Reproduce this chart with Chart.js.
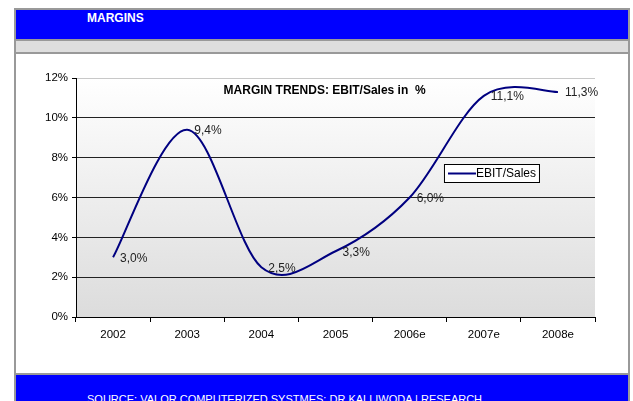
<!DOCTYPE html>
<html>
<head>
<meta charset="utf-8">
<script src="https://cdn.jsdelivr.net/npm/chart.js@4"></script>
<style>
    html, body { margin: 0; padding: 0; background: #fff; }
    body { width: 633px; height: 401px; position: relative; overflow: hidden; font-family: "Liberation Sans", Arial, sans-serif; }
    .frame { position: absolute; left: 14px; top: 8px; width: 612px; height: 400px; border: 2px solid #999; border-bottom: none; }
    .header { position: absolute; left: 16px; top: 10px; width: 612px; height: 29px; background: #0000ff; }
    .header span { position: absolute; left: 71px; top: 1px; color: #fff; font-weight: bold; font-size: 12px; }
    .band { position: absolute; left: 16px; top: 39px; width: 612px; height: 11px; background: #dedede; border-top: 2px solid #999; border-bottom: 2px solid #999; }
    .footer { position: absolute; left: 16px; top: 373px; width: 612px; height: 28px; background: #0000ff; border-top: 2px solid #999; }
    .footer span { position: absolute; left: 71px; top: 18px; color: #fff; font-size: 11px; white-space: nowrap; }
    #wrap { position: absolute; left: 16px; top: 54px; width: 612px; height: 319px; }
</style>
</head>
<body>
<div class="frame"></div>
<div class="header"><span>MARGINS</span></div>
<div class="band"></div>
<div class="footer"><span>SOURCE: VALOR COMPUTERIZED SYSTMES: DR KALLIWODA | RESEARCH</span></div>
<div id="wrap"><canvas id="marginChart" width="612" height="319"></canvas></div>
<script>
const years = ["2002", "2003", "2004", "2005", "2006e", "2007e", "2008e"];
const ebitSales = [3.0, 9.4, 2.5, 3.3, 6.0, 11.1, 11.3];
const yTicks = [0, 2, 4, 6, 8, 10, 12];
const chartTitle = "MARGIN TRENDS: EBIT/Sales in  %";
const seriesName = "EBIT/Sales";

const lineColor = "#000080";
const font = "'Liberation Sans', Arial, sans-serif";

// gradient fill behind the plot area
const plotBackground = {
    id: "plotBackground",
    beforeDraw(chart) {
        const { ctx, chartArea: a } = chart;
        const g = ctx.createLinearGradient(0, a.top, 0, a.bottom);
        g.addColorStop(0, "#ffffff");
        g.addColorStop(1, "#dcdcdc");
        ctx.save();
        ctx.fillStyle = g;
        ctx.fillRect(a.left, a.top, a.right - a.left, a.bottom - a.top);
        ctx.restore();
    }
};

// excel style smoothing: control points at 1/6 of the neighbour span
const excelSmooth = {
    id: "excelSmooth",
    beforeDatasetsDraw(chart) {
        const meta = chart.getDatasetMeta(0);
        meta.dataset.updateControlPoints(chart.chartArea, "x");
        const pts = meta.data;
        const n = pts.length;
        pts.forEach((p, i) => {
            const prev = pts[Math.max(i - 1, 0)];
            const next = pts[Math.min(i + 1, n - 1)];
            const dx = (next.x - prev.x) / 6;
            const dy = (next.y - prev.y) / 6;
            p.cp1x = p.x - dx;
            p.cp1y = p.y - dy;
            p.cp2x = p.x + dx;
            p.cp2y = p.y + dy;
        });
    }
};

// title, value labels and the boxed legend
const overlay = {
    id: "overlay",
    afterDatasetsDraw(chart) {
        const { ctx, chartArea: a } = chart;
        ctx.save();

        ctx.font = "bold 12px " + font;
        ctx.fillStyle = "#000";
        ctx.textAlign = "center";
        ctx.textBaseline = "middle";
        ctx.fillText(chartTitle, a.left + (a.right - a.left) * 0.479, a.top + 13);

        ctx.font = "12px " + font;
        ctx.fillStyle = "#222";
        ctx.textAlign = "left";
        const meta = chart.getDatasetMeta(0);
        meta.data.forEach((pt, i) => {
            const txt = ebitSales[i].toFixed(1).replace(".", ",") + "%";
            ctx.fillText(txt, pt.x + 7, pt.y + 1);
        });

        // legend box
        const lx = a.left + (a.right - a.left) * 0.709;
        const ly = a.top + 86;
        ctx.fillStyle = "#fff";
        ctx.fillRect(lx, ly, 95, 18);
        ctx.strokeStyle = "#000";
        ctx.lineWidth = 1;
        ctx.strokeRect(lx + 0.5, ly + 0.5, 95, 18);
        ctx.strokeStyle = lineColor;
        ctx.lineWidth = 2;
        ctx.beginPath();
        ctx.moveTo(lx + 4, ly + 9.5);
        ctx.lineTo(lx + 32, ly + 9.5);
        ctx.stroke();
        ctx.fillStyle = "#000";
        ctx.fillText(seriesName, lx + 32, ly + 10);

        ctx.restore();
    }
};

new Chart(document.getElementById("marginChart"), {
    type: "line",
    data: {
        labels: years,
        datasets: [{
            label: seriesName,
            data: ebitSales,
            borderColor: lineColor,
            borderWidth: 2,
            tension: 0.3,
            pointRadius: 0,
            fill: false
        }]
    },
    options: {
        responsive: false,
        animation: false,
        events: [],
        layout: { padding: { left: 0, top: 24, right: 33, bottom: 26 } },
        plugins: {
            legend: { display: false },
            tooltip: { enabled: false }
        },
        scales: {
            x: {
                offset: true,
                afterFit(scale) { scale.height = 30; },
                grid: {
                    offset: true,
                    drawOnChartArea: false,
                    drawTicks: true,
                    tickLength: 5,
                    tickColor: "#000"
                },
                border: { color: "#000", width: 1 },
                ticks: {
                    color: "#000",
                    padding: 6,
                    maxRotation: 0,
                    font: { family: font, size: 11.5 }
                }
            },
            y: {
                min: 0,
                max: 12,
                afterFit(scale) { scale.width = 60; },
                afterBuildTicks(scale) { scale.ticks = yTicks.map(v => ({ value: v })); },
                grid: {
                    color: ctx => (ctx.tick && ctx.tick.value === 12) ? "#c8c8c8" : "#222",
                    tickColor: "#000",
                    tickLength: 4
                },
                border: { color: "#000", width: 1 },
                ticks: {
                    color: "#000",
                    padding: 4,
                    callback: v => v + "%",
                    font: { family: font, size: 11.5 }
                }
            }
        }
    },
    plugins: [plotBackground, excelSmooth, overlay]
});
</script>
</body>
</html>
